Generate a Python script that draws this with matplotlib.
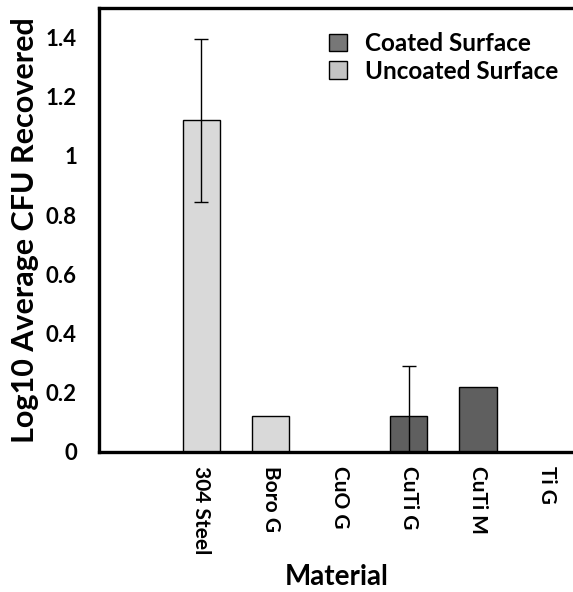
import numpy as np
import matplotlib
matplotlib.use("Agg")
import matplotlib.pyplot as plt
from matplotlib.patches import Patch

plt.rcParams['font.family'] = ['Lato', 'DejaVu Sans']
plt.rcParams['font.weight'] = 'bold'

# data
materials = ["304 Steel", "Boro G", "CuO G", "CuTi G", "CuTi M", "Ti G"]
values = [1.12, 0.12, 0.0, 0.12, 0.22, 0.0]
errors = [0.275, 0.0, 0.0, 0.17, 0.0, 0.0]
coated = [False, False, False, True, True, False]

coated_color = '#5f5f5f'
uncoated_color = '#d9d9d9'

fig = plt.figure(figsize=(5.73, 5.92), dpi=100)
ax = fig.add_axes([0.173, 0.2365, 0.83, 0.75])

x = np.arange(len(materials))
bar_colors = [coated_color if c else uncoated_color for c in coated]
ax.bar(x, values, width=0.54, color=bar_colors, edgecolor='black', linewidth=1.0, zorder=2)

# error bars only where there is a value
for xi, v, e in zip(x, values, errors):
    if e > 0:
        ax.errorbar(xi, v, yerr=e, fmt='none', ecolor='black', elinewidth=1.0,
                    capsize=5, capthick=1.0, zorder=3)

ax.set_xlim(-1.48, 5.4)
ax.set_ylim(0, 1.5)
ax.set_yticks([0, 0.2, 0.4, 0.6, 0.8, 1.0, 1.2, 1.4])
ax.set_yticklabels(['0', '0.2', '0.4', '0.6', '0.8', '1', '1.2', '1.4'])
ax.set_xticks(x)
ax.set_xticklabels(materials, rotation=-90, va='top', ha='center')
ax.tick_params(axis='y', length=0, pad=16, labelsize=16)
ax.tick_params(axis='x', length=0, pad=10, labelsize=15)

for s in ['left', 'top', 'bottom']:
    ax.spines[s].set_linewidth(2.4)
ax.spines['right'].set_visible(False)

ax.set_ylabel('Log10 Average CFU Recovered', fontsize=22, fontweight='bold', labelpad=5)
ax.set_xlabel('Material', fontsize=20, fontweight='bold', labelpad=7)

handles = [Patch(facecolor='#777777', edgecolor='black', label='Coated Surface'),
           Patch(facecolor='#c4c4c4', edgecolor='black', label='Uncoated Surface')]
fig.legend(handles=handles, loc='upper left', bbox_to_anchor=(0.536, 0.983),
           frameon=False, fontsize=17.5, handlelength=0.75, handleheight=0.75,
           handletextpad=0.75, labelspacing=0.2)

fig.savefig('out.png', dpi=100)
